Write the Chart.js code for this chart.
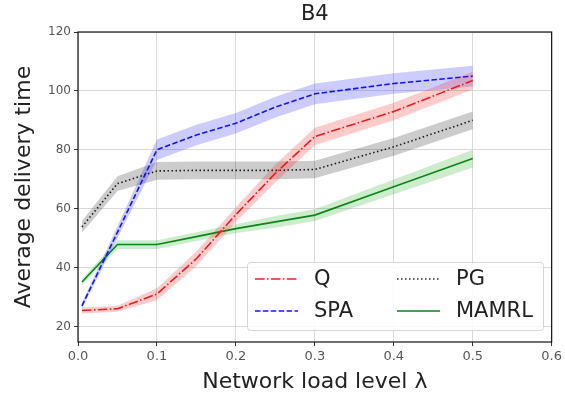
<!DOCTYPE html>
<html>
<head>
<meta charset="utf-8">
<script src="https://cdn.jsdelivr.net/npm/chart.js@4.4.1/dist/chart.umd.min.js"></script>
<style>
  html, body { margin: 0; padding: 0; background: #fff; }
  #wrap { width: 565px; height: 395px; }
</style>
</head>
<body>
<div id="wrap"><canvas id="chart"></canvas></div>
<script>
// network load levels (x) and average delivery time per method
const loads = [0.005, 0.05, 0.1, 0.15, 0.2, 0.25, 0.3, 0.4, 0.5];

const qTime = [25.4, 26, 31, 43, 58, 72, 84.5, 93, 103.5];
const qSpread = [1, 1, 2, 2.5, 2.5, 3, 3, 3, 3];

const spaTime = [27, 52, 80, 85, 89, 94.5, 99, 102.5, 105];
const spaSpread = [1, 2, 3.5, 3.5, 3.5, 3.5, 3.5, 3.5, 3.5];

const pgTime = [53.8, 68.5, 72.8, 73, 73, 73, 73.3, 81, 90];
const pgSpread = [2, 2.5, 3, 3, 3, 3, 3, 3, 3];

const mamrlTime = [35.1, 47.8, 47.8, 50.5, 53.2, 55.5, 57.8, 67.4, 77];
const mamrlSpread = [1, 1.5, 1.5, 1.5, 1.5, 2, 2, 2.5, 3];

const xTicks = [0, 0.1, 0.2, 0.3, 0.4, 0.5, 0.6];
const yTicks = [20, 40, 60, 80, 100, 120];

const series = [
  { label: 'Q', values: qTime, spread: qSpread, color: '#e8202a', band: 'rgba(255,0,0,0.2)', dash: [9.6, 2.4, 1.5, 2.4] },
  { label: 'SPA', values: spaTime, spread: spaSpread, color: '#1a1ae0', band: 'rgba(0,0,255,0.2)', dash: [5.5, 2.4] },
  { label: 'PG', values: pgTime, spread: pgSpread, color: '#222222', band: 'rgba(0,0,0,0.2)', dash: [1.5, 2.5] },
  { label: 'MAMRL', values: mamrlTime, spread: mamrlSpread, color: '#0f7f1f', band: 'rgba(0,160,0,0.2)', dash: [] }
];

const font = 'DejaVu Sans';

function points(vals) {
  return loads.map((x, i) => ({ x: x, y: vals[i] }));
}

const datasets = [];
series.forEach((s) => {
  datasets.push({
    data: points(s.values.map((v, i) => v - s.spread[i])),
    borderWidth: 0,
    pointRadius: 0,
    fill: false
  });
  datasets.push({
    data: points(s.values.map((v, i) => v + s.spread[i])),
    borderWidth: 0,
    pointRadius: 0,
    backgroundColor: s.band,
    fill: '-1'
  });
  datasets.push({
    label: s.label,
    data: points(s.values),
    borderColor: s.color,
    borderWidth: 1.6,
    borderDash: s.dash,
    pointRadius: 0,
    fill: false,
    tension: 0
  });
});

// title centred over the plot area, plus the axes frame
const frame = {
  id: 'frame',
  afterDatasetsDraw(chart) {
    const a = chart.chartArea;
    const ctx = chart.ctx;
    ctx.save();
    ctx.strokeStyle = '#111';
    ctx.lineWidth = 1.2;
    ctx.strokeRect(a.left, a.top, a.right - a.left, a.bottom - a.top);
    ctx.fillStyle = '#222';
    ctx.font = '21px "' + font + '"';
    ctx.textAlign = 'center';
    ctx.textBaseline = 'middle';
    ctx.fillText('B4', (a.left + a.right) / 2, 15);
    ctx.restore();
  }
};

// legend drawn inside the plot, lower right, two columns
const innerLegend = {
  id: 'innerLegend',
  afterDraw(chart) {
    const ctx = chart.ctx;
    const box = { x: 247, y: 262, w: 296, h: 68 };
    ctx.save();
    ctx.fillStyle = 'rgba(255,255,255,0.85)';
    ctx.strokeStyle = '#d6d6d6';
    ctx.lineWidth = 1;
    ctx.beginPath();
    ctx.roundRect(box.x + 0.5, box.y + 0.5, box.w, box.h, 3);
    ctx.fill();
    ctx.stroke();

    const cols = [{ lx: 255, tx: 314 }, { lx: 397, tx: 456 }];
    const rows = [279, 311];
    ctx.font = '21px "' + font + '"';
    ctx.textBaseline = 'middle';
    series.forEach((s, i) => {
      const c = cols[Math.floor(i / 2)];
      const y = rows[i % 2];
      ctx.strokeStyle = s.color;
      ctx.lineWidth = 1.6;
      ctx.setLineDash(s.dash);
      ctx.beginPath();
      ctx.moveTo(c.lx, y);
      ctx.lineTo(c.lx + 43, y);
      ctx.stroke();
      ctx.setLineDash([]);
      ctx.fillStyle = '#222';
      ctx.fillText(s.label, c.tx, y + 1);
    });
    ctx.restore();
  }
};

new Chart(document.getElementById('chart'), {
  type: 'line',
  data: { datasets: datasets },
  plugins: [frame, innerLegend],
  options: {
    responsive: true,
    maintainAspectRatio: false,
    animation: false,
    layout: { padding: { left: 0, right: 11, top: 32, bottom: 0 } },
    plugins: {
      legend: { display: false },
      tooltip: { enabled: false },
      title: { display: false }
    },
    scales: {
      x: {
        type: 'linear',
        min: 0,
        max: 0.6,
        afterBuildTicks: (scale) => { scale.ticks = xTicks.map((v) => ({ value: v })); },
        afterFit: (scale) => { scale.height = 53; },
        grid: { color: '#d9d9d9', tickColor: '#333', tickLength: 4, lineWidth: 1 },
        border: { display: false },
        ticks: {
          color: '#555',
          font: { family: font, size: 13 },
          padding: 3,
          maxRotation: 0,
          callback: (v) => v.toFixed(1)
        },
        title: {
          display: true,
          text: 'Network load level λ',
          color: '#222',
          font: { family: font, size: 22 },
          padding: { top: 2, bottom: 0 }
        }
      },
      y: {
        min: 14.7,
        max: 120,
        afterBuildTicks: (scale) => { scale.ticks = yTicks.map((v) => ({ value: v })); },
        afterFit: (scale) => { scale.width = 78; },
        grid: { color: '#d9d9d9', tickColor: '#333', tickLength: 4, lineWidth: 1 },
        border: { display: false },
        ticks: {
          color: '#555',
          font: { family: font, size: 12 },
          padding: 3
        },
        title: {
          display: true,
          text: 'Average delivery time',
          color: '#222',
          font: { family: font, size: 22 },
          padding: { top: 11, bottom: 4 }
        }
      }
    }
  }
});
</script>
</body>
</html>
